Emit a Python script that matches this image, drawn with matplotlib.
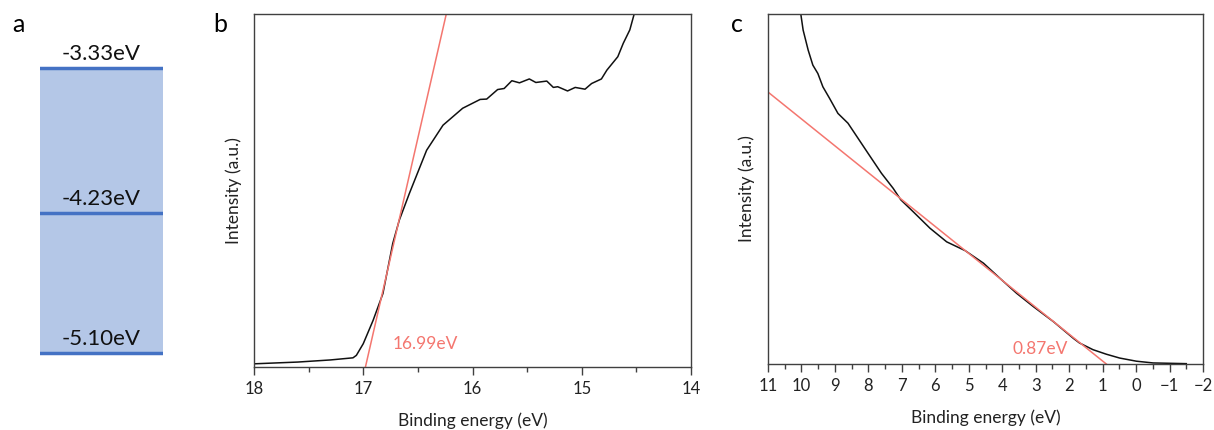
import matplotlib
matplotlib.use("Agg")
import matplotlib.pyplot as plt
from matplotlib.ticker import MultipleLocator

plt.rcParams['font.family'] = ['Lato', 'DejaVu Sans']

# ---------------- data ----------------
levels = [-3.33, -4.23, -5.10]
level_labels = ["-3.33eV", "-4.23eV", "-5.10eV"]

b_x = [18.0, 17.6, 17.3, 17.094, 17.063, 17.0, 16.91, 16.82, 16.73, 16.67, 16.58,
       16.42, 16.27, 16.09, 15.93, 15.87, 15.77, 15.71, 15.64, 15.57, 15.48,
       15.42, 15.32, 15.26, 15.22, 15.13, 15.06, 14.97, 14.91, 14.82, 14.77,
       14.67, 14.62, 14.56, 14.52]
b_y = [0.009, 0.014, 0.020, 0.026, 0.033, 0.066, 0.132, 0.208, 0.35, 0.416, 0.49,
       0.614, 0.685, 0.733, 0.758, 0.759, 0.786, 0.789, 0.811, 0.805, 0.816,
       0.806, 0.810, 0.792, 0.794, 0.782, 0.792, 0.787, 0.803, 0.816, 0.841,
       0.879, 0.917, 0.955, 1.0]
b_fit_x = [16.98, 16.24]
b_fit_y = [0.0, 1.0]
b_label = "16.99eV"

c_x = [10.02, 9.95, 9.80, 9.66, 9.51, 9.36, 9.16, 8.91, 8.61, 8.31, 8.01, 7.61,
       7.26, 7.03, 6.66, 6.16, 5.66, 5.11, 4.56, 4.07, 3.57, 3.07, 2.47, 1.87,
       1.69, 1.29, 0.89, 0.49, -0.01, -0.51, -1.50]
c_y = [1.0, 0.954, 0.897, 0.854, 0.830, 0.792, 0.759, 0.716, 0.688, 0.645, 0.602,
       0.545, 0.502, 0.469, 0.435, 0.388, 0.349, 0.324, 0.288, 0.245, 0.202,
       0.164, 0.121, 0.073, 0.060, 0.041, 0.028, 0.017, 0.008, 0.003, 0.001]
c_fit_x = [11.0, 0.89]
c_fit_y = [0.777, 0.0]
c_label = "0.87eV"

RED = '#F4766F'
SPINE = '#404040'

fig = plt.figure(figsize=(12.14, 4.30), dpi=100)

# ---------------- panel a ----------------
axa = fig.add_axes([40/1214, 1-367/430, 123/1214, 353/430])
axa.set_xlim(0, 1)
axa.set_ylim(-5.187, -2.995)
axa.axhspan(min(levels), max(levels), xmin=0, xmax=1, color='#B4C7E7', lw=0)
for lv, lb in zip(levels, level_labels):
    axa.axhline(lv, color='#4472C4', lw=2.5)
    axa.annotate(lb, (0.5, lv), xytext=(0, 3), textcoords='offset points',
                 ha='center', va='bottom', fontsize=16, color='#111111')
axa.axis('off')
fig.text(18/1214, 1-25/430, 'a', fontsize=18, ha='center', va='center')

def style(ax):
    for s in ax.spines.values():
        s.set_color(SPINE)
        s.set_linewidth(1.0)
    ax.set_yticks([])
    ax.tick_params(axis='x', which='major', direction='out', length=6,
                   width=1, color=SPINE, labelsize=12, labelcolor='#222222', pad=4)
    ax.tick_params(axis='x', which='minor', direction='out', length=3.5,
                   width=1, color=SPINE)
    ax.set_ylim(0, 1)

# ---------------- panel b ----------------
axb = fig.add_axes([254/1214, 1-367/430, 437/1214, 353/430])
axb.plot(b_x, b_y, color='#111111', lw=1.1)
axb.plot(b_fit_x, b_fit_y, color=RED, lw=1.1)
axb.set_xlim(18, 14)
axb.xaxis.set_major_locator(MultipleLocator(1))
axb.xaxis.set_minor_locator(MultipleLocator(0.5))
style(axb)
axb.set_xlabel('Binding energy (eV)', fontsize=12.5, labelpad=11, color='#222222')
axb.set_ylabel('Intensity (a.u.)', fontsize=12.5, labelpad=9, color='#222222')
axb.text(16.73, 0.066, b_label, color=RED, fontsize=12.5, ha='left', va='center')
fig.text(220/1214, 1-25/430, 'b', fontsize=18, ha='center', va='center')

# ---------------- panel c ----------------
axc = fig.add_axes([768/1214, 1-364/430, 435/1214, 350/430])
axc.plot(c_x, c_y, color='#111111', lw=1.1)
axc.plot(c_fit_x, c_fit_y, color=RED, lw=1.1)
axc.set_xlim(11, -2)
axc.xaxis.set_major_locator(MultipleLocator(1))
axc.xaxis.set_minor_locator(MultipleLocator(0.5))
style(axc)
axc.set_xlabel('Binding energy (eV)', fontsize=12.5, labelpad=11, color='#222222')
axc.set_ylabel('Intensity (a.u.)', fontsize=12.5, labelpad=9, color='#222222')
axc.text(3.68, 0.043, c_label, color=RED, fontsize=12.5, ha='left', va='center')
fig.text(737/1214, 1-25/430, 'c', fontsize=18, ha='center', va='center')

fig.savefig('out.png', dpi=100)
